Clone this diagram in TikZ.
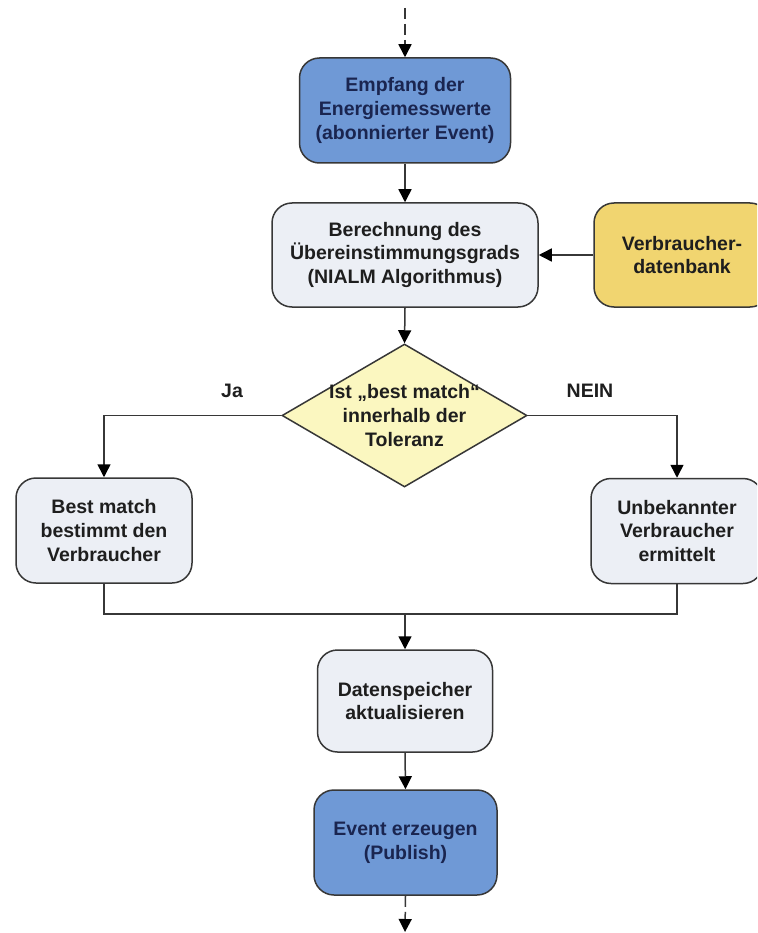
\documentclass[tikz,border=0pt]{standalone}
\usepackage{fontspec}
\setmainfont{Liberation Sans}
\usetikzlibrary{arrows.meta,shapes.geometric}

\definecolor{procblue}{RGB}{111,153,214}
\definecolor{procgrey}{RGB}{236,239,245}
\definecolor{dbyellow}{RGB}{241,213,112}
\definecolor{decyellow}{RGB}{251,247,192}
\definecolor{edgegrey}{RGB}{55,55,55}
\definecolor{navytext}{RGB}{26,37,80}
\definecolor{darktext}{RGB}{30,30,30}

\tikzset{
  flowtext/.style={font=\bfseries\fontsize{19.5}{23.8}\selectfont, align=center},
  procbox/.style={draw=edgegrey, line width=1.5pt, rounded corners=20pt,
    inner sep=0pt, flowtext},
  bluebox/.style={procbox, fill=procblue, text=navytext},
  greybox/.style={procbox, fill=procgrey, text=darktext},
  yellowbox/.style={procbox, fill=dbyellow, text=darktext},
  decision/.style={draw=edgegrey, line width=1.5pt, shape=diamond, fill=decyellow,
    inner sep=0pt},
  conn/.style={draw=edgegrey, line width=1.5pt},
  arr/.style={conn, -{Triangle[length=13pt,width=13pt,color=black]}},
  dasharr/.style={arr, dash pattern=on 11pt off 5pt},
  lbl/.style={flowtext, text=darktext},
}

\begin{document}
\begin{tikzpicture}[x=1pt, y=-1pt]
  \clip (0,0) rectangle (757,933);
  \fill[white] (0,0) rectangle (757,933);

  % process steps
  \node[bluebox, minimum width=211pt, minimum height=105pt] (recv) at (405,110.5)
    {Empfang der\\Energiemesswerte\\(abonnierter Event)};
  \node[greybox, minimum width=266pt, minimum height=104pt] (calc) at (405,255)
    {Berechnung des\\Übereinstimmungsgrads\\(NIALM Algorithmus)};
  \node[yellowbox, minimum width=176pt, minimum height=104pt] (db) at (682,255)
    {Verbraucher-\\datenbank};

  % decision
  \node[decision, minimum width=245pt, minimum height=143pt] (dec) at (404.5,415.5) {};
  \node[lbl] (dectext) at (dec.center) {Ist „best match“\\innerhalb der\\Toleranz};

  % branches
  \node[greybox, minimum width=176pt, minimum height=105pt] (known) at (104,530.5)
    {Best match\\bestimmt den\\Verbraucher};
  \node[greybox, minimum width=172pt, minimum height=105pt] (unknown) at (677,531)
    {Unbekannter\\Verbraucher\\ermittelt};

  \node[greybox, minimum width=175pt, minimum height=102pt] (store) at (405,701)
    {Datenspeicher\\aktualisieren};
  \node[bluebox, minimum width=183pt, minimum height=105pt] (pub) at (405.5,842.5)
    {Event erzeugen\\(Publish)};

  % branch labels
  \node[lbl] (yes) at (232,391) {Ja};
  \node[lbl] (no) at (590,391) {NEIN};

  % free ends and junction
  \coordinate (start) at (405,8);
  \coordinate (finish) at (405,932);
  \coordinate (merge) at (405,614);

  % connectors
  \draw[dasharr] (start) -- (recv.north);
  \draw[arr] (recv.south) -- (calc.north);
  \draw[arr] (db.west) -- (calc.east);
  \draw[arr] (calc.south) -- (dec.north);
  \draw[arr] (dec.west) -| (known.north);
  \draw[arr] (dec.east) -| (unknown.north);
  \draw[conn] (known.south) |- (merge) -| (unknown.south);
  \draw[arr] (merge) -- (store.north);
  \draw[arr] (store.south) -- (pub.north);
  \draw[dasharr] (pub.south) -- (finish);
\end{tikzpicture}
\end{document}
